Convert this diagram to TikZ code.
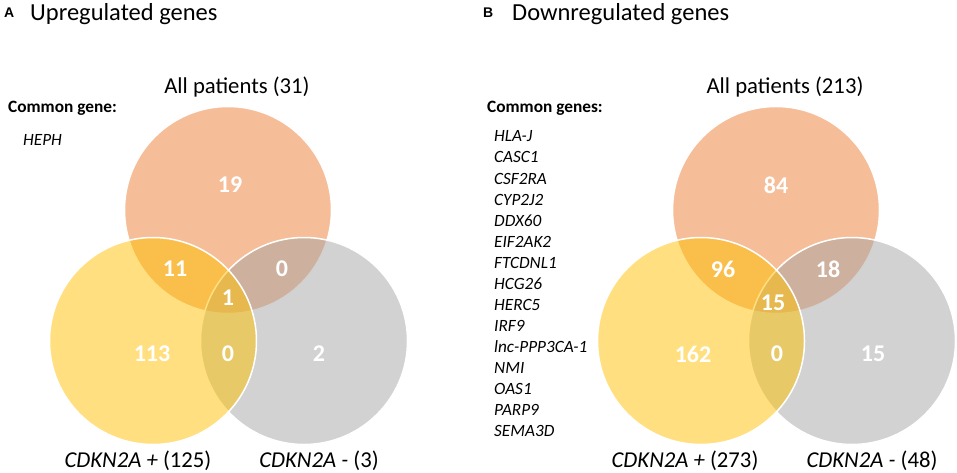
\documentclass[tikz,border=0pt]{standalone}
\usepackage{fontspec}
\setmainfont{Carlito}
\newfontfamily\tagfont{Liberation Sans}
\usepackage{tikz}
\usepackage{xcolor}
\definecolor{vorange}{RGB}{237,125,49}
\definecolor{vyellow}{RGB}{255,192,0}
\definecolor{vgray}{RGB}{165,165,165}

\begin{document}
\begin{tikzpicture}[x=1pt, y=-1pt,
venn/.style={circle, minimum size=207pt, inner sep=0pt, draw=white, line width=1.5pt, fill opacity=0.5},
count/.style={text=white, inner sep=0pt, font=\fontsize{24}{24}\selectfont\bfseries},
setlabel/.style={anchor=base, inner sep=0pt, font=\fontsize{22.7}{22.7}\selectfont},
paneltag/.style={anchor=base west, inner sep=0pt, font=\fontsize{14}{14}\selectfont\tagfont\bfseries},
paneltitle/.style={anchor=base west, inner sep=0pt, font=\fontsize{24.5}{24.5}\selectfont},
genehead/.style={anchor=base west, inner sep=0pt, font=\fontsize{17.3}{17.3}\selectfont\bfseries},
gene/.style={anchor=base west, inner sep=0pt, font=\fontsize{17.2}{17.2}\selectfont\itshape}]
\useasboundingbox (0,0) rectangle (957,473);
% panel A
\node[paneltag] (tagA) at (4,18) {A};
\node[paneltitle] (titleA) at (30,21) {Upregulated genes};
\node[venn, fill=vorange] (allA) at (228,210) {};
\node[venn, fill=vgray] (negA) at (304,341) {};
\node[venn, fill=vyellow] (posA) at (153,341) {};
\node[setlabel] (allAlabel) at (237,94) {All patients (31)};
\node[setlabel] (posAlabel) at (138,467) {\textit{CDKN2A +} (125)};
\node[setlabel] (negAlabel) at (319,467) {\textit{CDKN2A -} (3)};
\node[genehead] (headA) at (8,113) {Common gene:};
\node[gene] (hephA) at (23,146) {HEPH};
\foreach \x/\y/\num/\name in {230/185/19/a1, 175/269/11/a2, 282/269/0/a3, 228/298/1/a4, 152/354/113/a5, 228/354/0/a6, 319/354/2/a7}{
\node[count] (\name) at (\x,\y) {\num};
}
% panel B
\node[paneltag] (tagB) at (483,18) {B};
\node[paneltitle] (titleB) at (512,21) {Downregulated genes};
\node[venn, fill=vorange] (allB) at (776,210) {};
\node[venn, fill=vgray] (negB) at (852,341) {};
\node[venn, fill=vyellow] (posB) at (701,341) {};
\node[setlabel] (allBlabel) at (785,94) {All patients (213)};
\node[setlabel] (posBlabel) at (685,467) {\textit{CDKN2A +} (273)};
\node[setlabel] (negBlabel) at (872,467) {\textit{CDKN2A -} (48)};
\node[genehead] (headB) at (487,113) {Common genes:};
\foreach \g [count=\i] in {HLA-J, CASC1, CSF2RA, CYP2J2, DDX60, EIF2AK2, FTCDNL1, HCG26, HERC5, IRF9, lnc-PPP3CA-1, NMI, OAS1, PARP9, SEMA3D}{
\node[gene] (geneB\i) at (494,121+21*\i) {\g};
}
\foreach \x/\y/\num/\name in {776/185/84/b1, 723/269/96/b2, 828/269/18/b3, 773/303/15/b4, 693/354/162/b5, 777/354/0/b6, 873/354/15/b7}{
\node[count] (\name) at (\x,\y) {\num};
}
\end{tikzpicture}
\end{document}
